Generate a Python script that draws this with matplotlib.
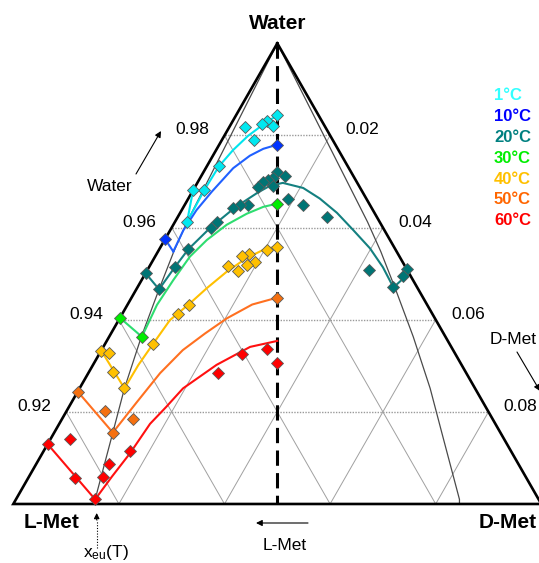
import numpy as np
import matplotlib
matplotlib.use('Agg')
import matplotlib.pyplot as plt

plt.rcParams['font.family'] = ['Liberation Sans', 'DejaVu Sans']

# ---- data: mole fractions of L-Met (xL) and D-Met (xD); water = 1 - xL - xD ----
temps = [1, 10, 20, 30, 40, 50, 60]

# binary L-Met solubility (left edge, xD = 0)
xL_pure = [0.0319, 0.0425, 0.0499, 0.0596, 0.0667, 0.0756, 0.0870]
# eutectic points
eu_L = [0.0365, 0.0423, 0.0491, 0.0575, 0.0664, 0.0734, 0.0840]
eu_D = [0.0023, 0.0029, 0.0043, 0.0062, 0.0085, 0.0111, 0.0150]

# measured points
meas_L_01 = [0.0079, 0.0103, 0.0117, 0.0097, 0.0152, 0.0150, 0.0244, 0.0297, 0.0319, 0.0365]
meas_D_01 = [0.0077, 0.0065, 0.0058, 0.0082, 0.0030, 0.0060, 0.0023, 0.0021, 0.0000, 0.0023]
meas_L_10 = [0.0110, 0.0425]
meas_D_10 = [0.0110, 0.0000]
meas_L_20 = [0.0141, 0.0129, 0.0154, 0.0165, 0.0177, 0.0192, 0.0164, 0.0149, 0.0126, 0.0094,
             0.0231, 0.0247, 0.0262, 0.0308, 0.0327, 0.0392, 0.0436, 0.0499, 0.0491,
             0.0072, 0.0000, 0.0014, 0.0045]
meas_D_20 = [0.0138, 0.0159, 0.0138, 0.0131, 0.0124, 0.0120, 0.0146, 0.0190, 0.0225, 0.0284,
             0.0119, 0.0105, 0.0096, 0.0079, 0.0075, 0.0055, 0.0049, 0.0000, 0.0043,
             0.0420, 0.0490, 0.0491, 0.0485]
meas_L_30 = [0.0174, 0.0596, 0.0575]
meas_D_30 = [0.0174, 0.0000, 0.0062]
meas_L_40 = [0.0221, 0.0243, 0.0282, 0.0298, 0.0279, 0.0299, 0.0321, 0.0335, 0.0451, 0.0481,
             0.0561, 0.0667, 0.0655, 0.0667, 0.0664]
meas_D_40 = [0.0221, 0.0205, 0.0176, 0.0163, 0.0195, 0.0183, 0.0173, 0.0149, 0.0117, 0.0106,
             0.0091, 0.0000, 0.0018, 0.0046, 0.0085]
meas_L_50 = [0.0276, 0.0756, 0.0725, 0.0734, 0.0681]
meas_D_50 = [0.0276, 0.0000, 0.0073, 0.0111, 0.0135]
meas_L_60 = [0.0347, 0.0352, 0.0405, 0.0469, 0.0870, 0.0823, 0.0855, 0.0840, 0.0802, 0.0775, 0.0722]
meas_D_60 = [0.0347, 0.0312, 0.0270, 0.0246, 0.0000, 0.0036, 0.0089, 0.0150, 0.0140, 0.0138, 0.0164]

# fitted solubility curves (eutectic -> racemic line)
fit_L_01 = [0.0365, 0.0297, 0.0244, 0.0200, 0.0156, 0.0121, 0.0078]
fit_D_01 = [0.0023, 0.0021, 0.0023, 0.0032, 0.0045, 0.0059, 0.0078]
fit_L_10 = [0.0423, 0.0381, 0.0334, 0.0285, 0.0219, 0.0174, 0.0141, 0.0110]
fit_D_10 = [0.0029, 0.0025, 0.0028, 0.0037, 0.0052, 0.0070, 0.0088, 0.0110]
fit_L_20 = [0.0491, 0.0436, 0.0392, 0.0328, 0.0267, 0.0232, 0.0199, 0.0168, 0.0141, 0.0108,
            0.0088, 0.0071, 0.0059, 0.0047, 0.0043, 0.0045]
fit_D_20 = [0.0043, 0.0049, 0.0055, 0.0073, 0.0095, 0.0110, 0.0125, 0.0141, 0.0162, 0.0206,
            0.0249, 0.0297, 0.0346, 0.0398, 0.0443, 0.0485]
fit_L_30 = [0.0575, 0.0512, 0.0454, 0.0397, 0.0347, 0.0293, 0.0243, 0.0204, 0.0174]
fit_D_30 = [0.0062, 0.0056, 0.0060, 0.0066, 0.0080, 0.0101, 0.0127, 0.0151, 0.0174]
fit_L_40 = [0.0664, 0.0612, 0.0561, 0.0504, 0.0447, 0.0400, 0.0344, 0.0291, 0.0243, 0.0221]
fit_D_40 = [0.0085, 0.0086, 0.0091, 0.0097, 0.0117, 0.0132, 0.0152, 0.0175, 0.0202, 0.0221]
fit_L_50 = [0.0734, 0.0658, 0.0580, 0.0512, 0.0452, 0.0394, 0.0331, 0.0276]
fit_D_50 = [0.0111, 0.0123, 0.0136, 0.0154, 0.0178, 0.0203, 0.0236, 0.0276]
fit_L_60 = [0.0840, 0.0784, 0.0724, 0.0654, 0.0606, 0.0553, 0.0464, 0.0381, 0.0323]
fit_D_60 = [0.0150, 0.0157, 0.0166, 0.0172, 0.0184, 0.0196, 0.0234, 0.0278, 0.0323]

# eutectic composition line x_eu(T)
xeu_L = [0.0, 0.0365, 0.0422, 0.0491, 0.0576, 0.0664, 0.0734, 0.0840, 0.0845]
xeu_D = [0.0, 0.0023, 0.0030, 0.0043, 0.0061, 0.0085, 0.0111, 0.0150, 0.0155]

grid_vals = [0.02, 0.04, 0.06, 0.08]

label_colors = ['#33FFFF', '#0000FF', '#008080', '#00EE00', '#FFC000', '#FF6600', '#FF0000']
marker_colors = ['#00E8F0', '#0033FF', '#007575', '#00EE00', '#FFC000', '#F57010', '#FF0000']
line_colors = ['#00E5EE', '#2060FF', '#148080', '#2EDD70', '#FFC000', '#FF7020', '#FF1010']


def tern(xl, xd):
    xl = np.asarray(xl, dtype=float)
    xd = np.asarray(xd, dtype=float)
    return xd - xl, 1 - xl - xd


def px(x, y):
    # image pixel -> axes fraction (axes fills the figure)
    return x / 539, 1 - y / 563


fig = plt.figure(figsize=(5.39, 5.63), dpi=100)
ax = fig.add_axes([0, 0, 1, 1])
ax.set_xlim(-0.10504, 0.09913)
ax.set_ylim(0.88719, 1.00940)
ax.axis('off')

# grid
for v in grid_vals:
    X, Y = tern([v, 0], [0, v])
    ax.plot(X, Y, color='#9a9a9a', lw=1.0, ls=(0, (1, 1)), zorder=1)
    X, Y = tern([v, v], [0, 0.1 - v])
    ax.plot(X, Y, color='#a0a0a0', lw=0.7, zorder=1)
    X, Y = tern([0, 0.1 - v], [v, v])
    ax.plot(X, Y, color='#a0a0a0', lw=0.7, zorder=1)

# eutectic composition lines (left and mirrored right)
X, Y = tern(xeu_L, xeu_D)
ax.plot(X, Y, color='#4a4a4a', lw=0.9, zorder=2)
X, Y = tern(xeu_D, xeu_L)
ax.plot(X, Y, color='#4a4a4a', lw=0.9, zorder=2)

# triangle and racemic line
X, Y = tern([0, 0.1, 0, 0], [0, 0, 0.1, 0])
ax.plot(X, Y, color='black', lw=1.9, zorder=3, solid_joinstyle='miter')
X, Y = tern([0, 0.05], [0, 0.05])
ax.plot(X, Y, color='black', lw=2.2, dashes=(5, 2.4), zorder=3)

meas_L = [meas_L_01, meas_L_10, meas_L_20, meas_L_30, meas_L_40, meas_L_50, meas_L_60]
meas_D = [meas_D_01, meas_D_10, meas_D_20, meas_D_30, meas_D_40, meas_D_50, meas_D_60]
fit_L = [fit_L_01, fit_L_10, fit_L_20, fit_L_30, fit_L_40, fit_L_50, fit_L_60]
fit_D = [fit_D_01, fit_D_10, fit_D_20, fit_D_30, fit_D_40, fit_D_50, fit_D_60]

for i, T in enumerate(temps):
    lc = line_colors[i]
    # L-Met branch: binary point -> eutectic
    X, Y = tern([xL_pure[i], eu_L[i]], [0, eu_D[i]])
    ax.plot(X, Y, color=lc, lw=1.5, zorder=4)
    X, Y = tern(fit_L[i], fit_D[i])
    ax.plot(X, Y, color=lc, lw=1.5, zorder=4)
    if T == 20:
        # mirrored D-Met branch
        X, Y = tern([fit_L_20[-1], 0], [fit_D_20[-1], xL_pure[i]])
        ax.plot(X, Y, color=lc, lw=1.5, zorder=4)
    X, Y = tern(meas_L[i], meas_D[i])
    ax.plot(X, Y, 'D', ms=6.2, mfc=marker_colors[i], mec='#5a5a5a', mew=0.6, ls='none', zorder=5)

# axis value labels
for v in grid_vals:
    X, Y = tern([v], [0])
    ax.annotate(f'{1 - v:.2f}', xy=(X[0], Y[0]), xytext=(-11, 4), textcoords='offset points',
                ha='right', va='center', fontsize=12.5)
    X, Y = tern([0], [v])
    ax.annotate(f'{v:.2f}', xy=(X[0], Y[0]), xytext=(11, 4), textcoords='offset points',
                ha='left', va='center', fontsize=12.5)

# corner labels
X, Y = tern([0], [0])
ax.annotate('Water', xy=(X[0], Y[0]), xytext=(0, 14.5), textcoords='offset points',
            ha='center', va='center', fontsize=15, fontweight='bold')
ax.text(*px(52, 523), 'L-Met', transform=ax.transAxes, ha='center', va='center',
        fontsize=15, fontweight='bold')
ax.text(*px(508, 523), 'D-Met', transform=ax.transAxes, ha='center', va='center',
        fontsize=15, fontweight='bold')

# direction arrows
arrow = dict(arrowstyle='-|>', color='black', lw=0.8, mutation_scale=9, shrinkA=0, shrinkB=0)
ax.annotate('', xy=px(161, 131), xytext=px(136, 174), xycoords='axes fraction', arrowprops=arrow)
ax.text(*px(110, 186), 'Water', transform=ax.transAxes, ha='center', va='center', fontsize=12.5)
ax.annotate('', xy=px(540, 391), xytext=px(517, 352), xycoords='axes fraction', arrowprops=arrow)
ax.text(*px(513, 340), 'D-Met', transform=ax.transAxes, ha='center', va='center', fontsize=12.5)
ax.annotate('', xy=px(256, 523), xytext=px(308, 523), xycoords='axes fraction', arrowprops=arrow)
ax.text(*px(285, 546), 'L-Met', transform=ax.transAxes, ha='center', va='center', fontsize=12.5)

# x_eu(T) marker
ax.plot([96.7 / 539, 96.7 / 539], [1 - 548 / 563, 1 - 520 / 563], transform=ax.transAxes,
        color='black', lw=0.8, ls=(0, (1, 1.5)))
ax.annotate('', xy=px(96.7, 513), xytext=px(96.7, 520), xycoords='axes fraction',
            arrowprops=dict(arrowstyle='-|>', color='black', lw=0.8, mutation_scale=8,
                            shrinkA=0, shrinkB=0))
ax.text(*px(106, 553), r'$\mathregular{x_{eu}}$(T)', transform=ax.transAxes,
        ha='center', va='center', fontsize=12.5)

# temperature legend
for i, T in enumerate(temps):
    ax.text(*px(494, 96 + i * 20.8), f'{T}°C', transform=ax.transAxes, ha='left', va='center',
            fontsize=12, fontweight='bold', color=label_colors[i])

fig.savefig('out.png', dpi=100)
